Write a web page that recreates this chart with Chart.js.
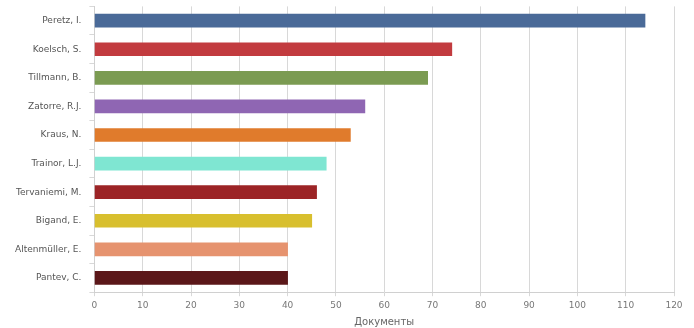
<!DOCTYPE html>
<html>
<head>
<meta charset="utf-8">
<script src="https://cdn.jsdelivr.net/npm/chart.js@4/dist/chart.umd.min.js"></script>
<style>
  html, body { margin: 0; padding: 0; background: #fff; overflow: hidden; }
  #wrap { width: 694px; height: 335px; position: relative; margin-top: -7px; }
</style>
</head>
<body>
<div id="wrap"><canvas id="js-bar-chart"></canvas></div>
<script>
// authors and their document counts
const authors = ['Peretz, I.', 'Koelsch, S.', 'Tillmann, B.', 'Zatorre, R.J.', 'Kraus, N.',
  'Trainor, L.J.', 'Tervaniemi, M.', 'Bigand, E.', 'Altenmüller, E.', 'Pantev, C.']
const documents = [114, 74, 69, 56, 53, 48, 46, 45, 40, 40]
const barColors = ['#4a6a98', '#c23b3f', '#7b9b52', '#8f66b3', '#e07b2c',
  '#7fe6d2', '#9c2426', '#d8bf2e', '#e6936f', '#5b1719']
const xTicks = [0, 10, 20, 30, 40, 50, 60, 70, 80, 90, 100, 110, 120]

const ctx = document.getElementById('js-bar-chart').getContext('2d')

const chart = new Chart(ctx, {
  type: 'bar',
  data: {
    labels: authors,
    datasets: [{
      data: documents,
      backgroundColor: barColors,
      borderColor: barColors,
      borderWidth: 0,
      barThickness: 13,
    }],
  },
  options: {
    indexAxis: 'y',
    responsive: true,
    maintainAspectRatio: false,
    animation: false,
    layout: { padding: { top: 0, right: 20, left: 7, bottom: 0 } },
    plugins: {
      legend: { display: false },
      tooltip: { enabled: false },
    },
    scales: {
      x: {
        min: 0,
        max: 120,
        afterBuildTicks: (axis) => { axis.ticks = xTicks.map(v => ({ value: v })) },
        grid: { color: '#d8d8d8', tickLength: 4, drawTicks: true },
        border: { color: '#d0d0d0' },
        ticks: { color: '#777', font: { family: 'DejaVu Sans', size: 9 }, padding: 4 },
        title: {
          display: true,
          text: 'Документы',
          color: '#666',
          font: { family: 'DejaVu Sans', size: 10 },
          padding: { top: 1, bottom: 0 },
        },
      },
      y: {
        grid: { drawOnChartArea: false, color: '#d8d8d8', tickLength: 5, offset: true },
        border: { color: '#d0d0d0' },
        ticks: { color: '#555', font: { family: 'DejaVu Sans', size: 9 }, padding: 8 },
      },
    },
  },
})
</script>
</body>
</html>
